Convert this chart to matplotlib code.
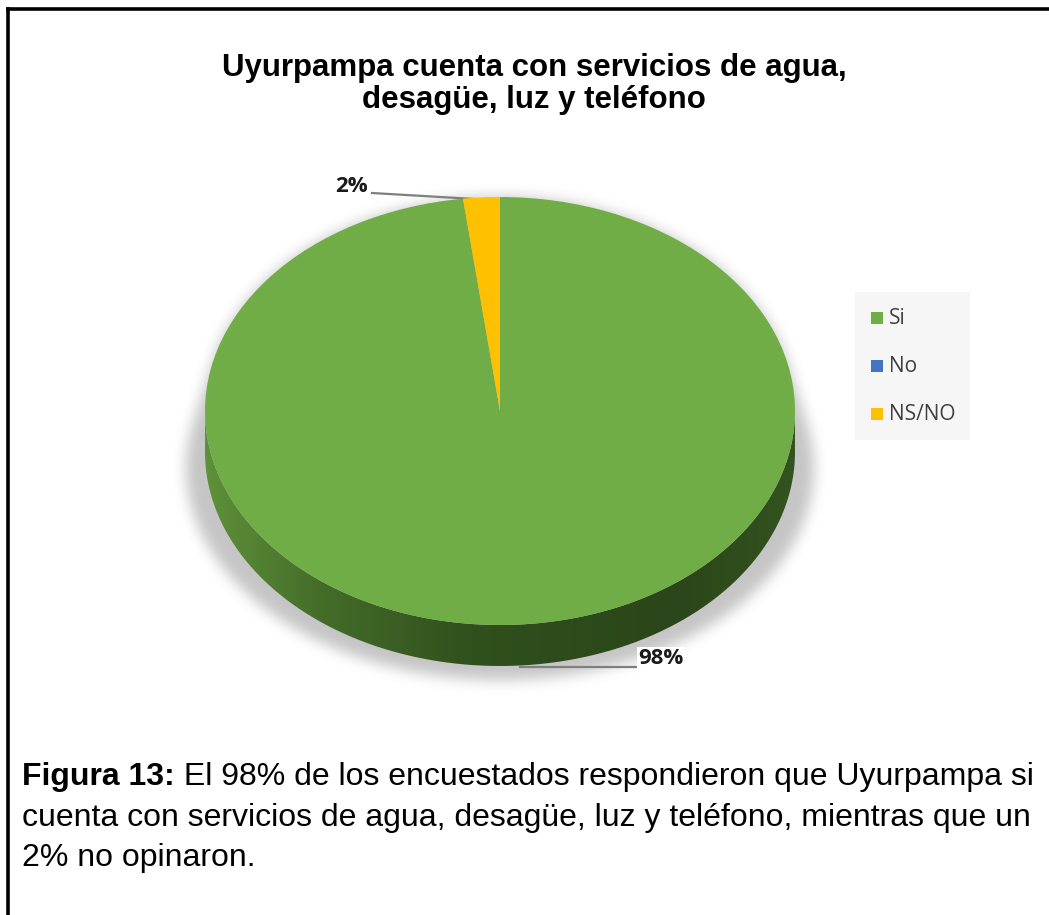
import numpy as np
import matplotlib
matplotlib.use("Agg")
import matplotlib.pyplot as plt
from matplotlib.patches import Rectangle, PathPatch
from matplotlib.path import Path
from matplotlib.lines import Line2D
from matplotlib.colors import LinearSegmentedColormap

# ---- data ----
categories = ["Si", "No", "NS/NO"]
values = [98, 0, 2]
pct_labels = ["98%", "", "2%"]
colors = ["#70ad47", "#4472c4", "#ffc000"]
title = "Uyurpampa cuenta con servicios de agua,\ndesagüe, luz y teléfono"
caption_bold = "Figura 13:"
caption_rest = " El 98% de los encuestados respondieron que Uyurpampa si"
caption_lines = ["cuenta con servicios de agua, desagüe, luz y teléfono, mientras que un",
                 "2% no opinaron."]

W, H = 1049, 915
fig = plt.figure(figsize=(W / 100, H / 100), dpi=100)
fig.patch.set_facecolor("white")

bg = fig.add_axes([0, 0, 1, 1])
bg.set_xlim(0, W)
bg.set_ylim(H, 0)
bg.axis("off")
bg.add_line(Line2D([7.5, 7.5], [9, H + 5], color="black", lw=2.6, solid_capstyle="projecting"))
bg.add_line(Line2D([7.5, W + 5], [9, 9], color="black", lw=2.6, solid_capstyle="projecting"))

# geometry of the pie in pixels
cx, cy, rx, ry = 500, 411, 295, 214

# ---- shadow: blurred hull of pie ellipse and a wider, lower ellipse ----
t = np.linspace(0, 2 * np.pi, 360, endpoint=False)
e1 = np.column_stack([cx + rx * np.cos(t), cy + ry * np.sin(t)])
e2 = np.column_stack([cx + 314 * np.cos(t), 468 + 212 * np.sin(t)])
pts = np.vstack([e1, e2])

def hull(p):
    p = sorted(map(tuple, p))
    def cross(o, a, b):
        return (a[0] - o[0]) * (b[1] - o[1]) - (a[1] - o[1]) * (b[0] - o[0])
    lo, up = [], []
    for q in p:
        while len(lo) >= 2 and cross(lo[-2], lo[-1], q) <= 0:
            lo.pop()
        lo.append(q)
    for q in reversed(p):
        while len(up) >= 2 and cross(up[-2], up[-1], q) <= 0:
            up.pop()
        up.append(q)
    return np.array(lo[:-1] + up[:-1])

hp = Path(hull(pts))
gx0, gx1, gy0, gy1 = 140, 870, 170, 730
gx, gy = np.meshgrid(np.arange(gx0, gx1) + 0.5, np.arange(gy0, gy1) + 0.5)
mask = hp.contains_points(np.column_stack([gx.ravel(), gy.ravel()])).reshape(gx.shape).astype(float)

def box(a, r, axis):
    k = np.ones(2 * r + 1) / (2 * r + 1)
    return np.apply_along_axis(lambda v: np.convolve(v, k, mode="same"), axis, a)

for _ in range(3):
    mask = box(mask, 6, 0)
    mask = box(mask, 6, 1)
rgba = np.zeros(mask.shape + (4,))
rgba[..., :3] = 0.40
rgba[..., 3] = mask * 0.38
bg.imshow(rgba, extent=[gx0, gx1, gy1, gy0], aspect="auto", zorder=1, interpolation="bilinear")

# ---- pie axes: unit circle -> ellipse centered (cx,cy) ----
ax_l, ax_r, ax_t, ax_b = 150, 860, 150, 720
ax = fig.add_axes([ax_l / W, 1 - ax_b / H, (ax_r - ax_l) / W, (ax_b - ax_t) / H])
ax.axis("off")
ax.patch.set_alpha(0)

depth = 41 / ry

th = np.linspace(np.pi, 2 * np.pi, 200)
xs, ys = np.cos(th), np.sin(th)
verts = np.concatenate([np.column_stack([xs, ys]),
                        np.column_stack([xs[::-1], ys[::-1] - depth])])
verts = np.vstack([verts, verts[:1]])
side_patch = PathPatch(Path(verts), facecolor="none", edgecolor="none", zorder=2)
ax.add_patch(side_patch)
grad = np.linspace(0, 1, 256)[None, :]
cmap = LinearSegmentedColormap.from_list(
    "side", [(0, "#5e9139"), (0.2, "#446c29"), (0.45, "#30501d"), (0.8, "#2b461a"), (1, "#33531f")])
im = ax.imshow(grad, extent=[-1, 1, -1 - depth, 0], cmap=cmap, aspect="auto",
               zorder=2, interpolation="bicubic")
im.set_clip_path(side_patch)

wedges, _ = ax.pie(values, colors=colors, startangle=90, counterclock=False,
                   radius=1.0, center=(0, 0), wedgeprops=dict(linewidth=0))
for w in wedges:
    w.set_zorder(3)

ax.set_aspect("auto")
ax.set_xlim((ax_l - cx) / rx, (ax_r - cx) / rx)
ax.set_ylim((cy - ax_b) / ry, (cy - ax_t) / ry)

label_font = ["Open Sans", "DejaVu Sans"]
ang2 = np.deg2rad(90 + 360 * values[2] / sum(values) / 2)
p0 = (cx + rx * np.cos(ang2), cy - ry * np.sin(ang2))
bg.plot([372, p0[0]], [193, p0[1] + 2], color="#7f7f7f", lw=1.6, zorder=5)
bg.text(368, 186, pct_labels[2], ha="right", va="center", fontsize=16,
        fontweight="bold", family=label_font, color="#1a1a1a", zorder=6)
bg.plot([520, 636], [667, 667], color="#7f7f7f", lw=1.6, zorder=5)
bg.text(638, 658, pct_labels[0], ha="left", va="center", fontsize=16,
        fontweight="bold", family=label_font, color="#1a1a1a", zorder=6,
        bbox=dict(facecolor="white", edgecolor="none", pad=0.5))

bg.text(534, 84, title, ha="center", va="center", fontsize=22.5, fontweight="bold",
        family=["Liberation Sans", "DejaVu Sans"], linespacing=1.05, color="black")

bg.add_patch(Rectangle((855, 292), 115, 148, facecolor="#f6f6f6", edgecolor="none", zorder=4))
leg_y = [318, 366, 414]
for lab, col, yy in zip(categories, colors, leg_y):
    bg.add_patch(Rectangle((871, yy - 6), 12, 12, facecolor=col, edgecolor="none", zorder=5))
    bg.text(889, yy, lab, ha="left", va="center", fontsize=15, family=label_font,
            color="#404040", zorder=6)

cap_font = ["Liberation Sans", "DejaVu Sans"]
cap_fs = 23
tt = bg.text(22, 777, caption_bold, ha="left", va="center", fontsize=cap_fs, fontweight="bold",
             family=cap_font, color="black")
fig.canvas.draw()
bb = tt.get_window_extent()
bg.text(22 + bb.width, 777, caption_rest, ha="left", va="center", fontsize=cap_fs,
        family=cap_font, color="black")
bg.text(22, 818, caption_lines[0], ha="left", va="center", fontsize=cap_fs,
        family=cap_font, color="black")
bg.text(22, 858, caption_lines[1], ha="left", va="center", fontsize=cap_fs,
        family=cap_font, color="black")

fig.savefig("out.png", dpi=100, facecolor="white")
